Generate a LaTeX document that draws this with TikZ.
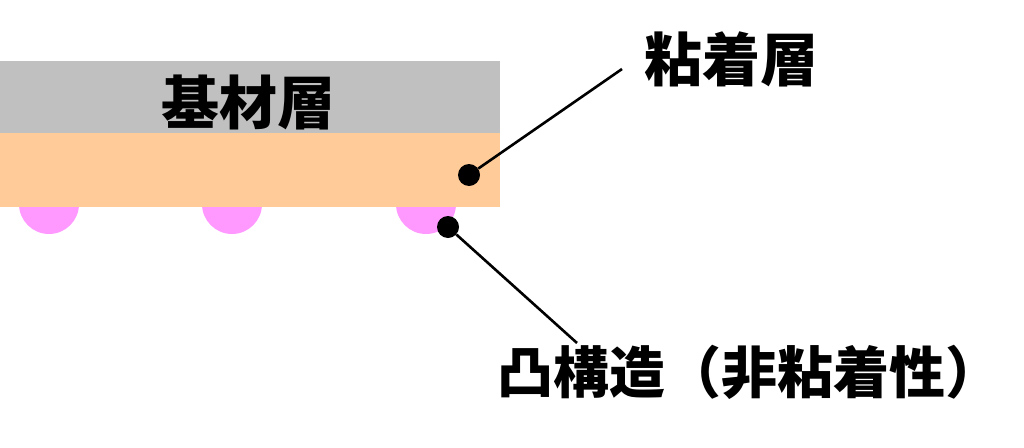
\documentclass[tikz,border=0pt]{standalone}
\usepackage{fontspec}
\newfontfamily\cjk{Noto Sans CJK JP}
\definecolor{basegray}{HTML}{C0C0C0}
\definecolor{glueorange}{HTML}{FFCC99}
\definecolor{bumppink}{HTML}{FF99FF}

\begin{document}
\begin{tikzpicture}[x=1pt,y=-1pt]
				\tikzstyle{every node}=[font=\cjk\bfseries\fontsize{58}{62}\selectfont]
				\tikzstyle{dot}=[fill=black,circle,inner sep=0pt,minimum size=22pt]
				\tikzstyle{leader}=[line width=2.6pt]
				\useasboundingbox (0,0) rectangle (1024,447);
				\foreach \x in {49,232,426}
					\fill[bumppink] (\x,204) circle (30pt);
				\fill[basegray] (0,61) rectangle (500,133);
				\fill[glueorange] (0,133) rectangle (500,207);
				\node (kizai) at (248,102) {基材層};
				\node[dot] (glue) at (469,175) {};
				\node[dot] (bump) at (448,227) {};
				\node (nenchaku) at (731,59) {粘着層};
				\node[font=\cjk\bfseries\fontsize{56}{60}\selectfont] (tokki) at (749,372) {凸構造（非粘着性）};
				\coordinate (glue end) at (622,69);
				\coordinate (bump end) at (577,343);
				\draw[leader] (glue) -- (glue end);
				\draw[leader] (bump) -- (bump end);
\end{tikzpicture}
\end{document}
